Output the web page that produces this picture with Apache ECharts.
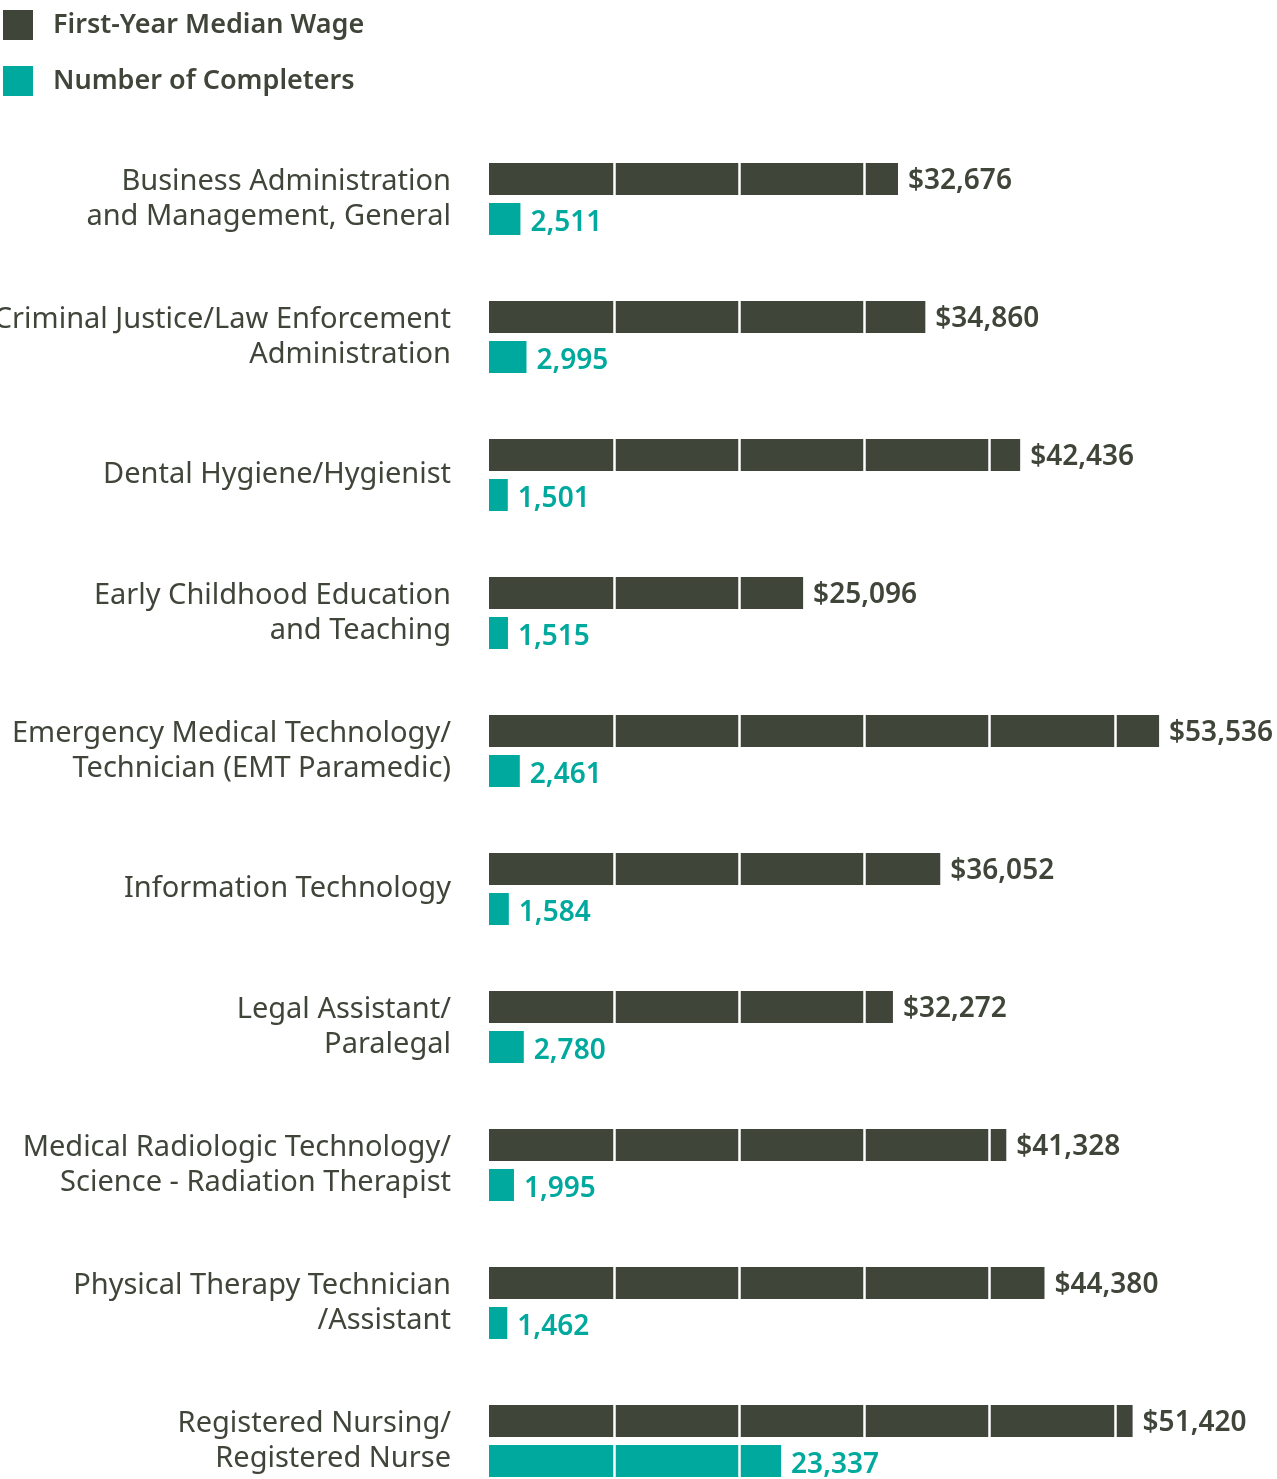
<!DOCTYPE html>
<html>
<head>
<meta charset="utf-8">
<script src="https://cdn.jsdelivr.net/npm/echarts@6/dist/echarts.min.js"></script>
<style>
  html, body { margin: 0; padding: 0; background: #fff; }
  #chart { width: 1277px; height: 1479px; }
</style>
</head>
<body>
<div id="chart"></div>
<script>
const programs = [
  'Business Administration\nand Management, General',
  'Criminal Justice/Law Enforcement\nAdministration',
  'Dental Hygiene/Hygienist',
  'Early Childhood Education\nand Teaching',
  'Emergency Medical Technology/\nTechnician (EMT Paramedic)',
  'Information Technology',
  'Legal Assistant/\nParalegal',
  'Medical Radiologic Technology/\nScience - Radiation Therapist',
  'Physical Therapy Technician\n/Assistant',
  'Registered Nursing/\nRegistered Nurse'
];
const medianWage = [32676, 34860, 42436, 25096, 53536, 36052, 32272, 41328, 44380, 51420];
const completers = [2511, 2995, 1501, 1515, 2461, 1584, 2780, 1995, 1462, 23337];

const DARK = '#40453a';
const TEAL = '#00a99d';
const FONT = 'Noto Sans';

const chart = echarts.init(document.getElementById('chart'));
const fmt = v => v.toLocaleString('en-US');

// value labels go on invisible scatter points so the white split lines stay under them
function labelSeries(values, color, dy, prefix) {
  return {
    type: 'scatter',
    z: 20,
    symbolSize: 0,
    silent: true,
    itemStyle: { opacity: 1 },
    data: values.map((v, i) => [v, i]),
    label: {
      show: true, position: 'right', distance: 10, offset: [0, dy],
      fontFamily: FONT, fontSize: 28, fontWeight: 600, color: color,
      formatter: p => prefix + fmt(p.value[0])
    }
  };
}

chart.setOption({
  animation: false,
  legend: {
    orient: 'vertical',
    left: 3,
    top: 10,
    padding: 0,
    itemWidth: 30,
    itemHeight: 30,
    itemGap: 26,
    icon: 'rect',
    data: ['First-Year Median Wage', 'Number of Completers'],
    textStyle: { fontFamily: FONT, fontSize: 27, fontWeight: 600, color: DARK, padding: [3, 0, 0, 15] }
  },
  grid: {
    left: 489,
    top: 130,
    width: 751,
    height: 1380,
    outerBoundsMode: 'none'
  },
  xAxis: {
    type: 'value',
    min: 0,
    max: 60000,
    interval: 10000,
    z: 10,
    axisLabel: { show: false },
    axisLine: { show: false },
    axisTick: { show: false },
    splitLine: { show: true, showMinLine: false, showMaxLine: false, lineStyle: { color: '#fff', width: 2.5 } }
  },
  yAxis: {
    type: 'category',
    inverse: true,
    data: programs,
    axisLine: { show: false },
    axisTick: { show: false },
    axisLabel: { margin: 38, fontFamily: FONT, fontSize: 29, lineHeight: 35, color: DARK }
  },
  series: [
    {
      name: 'First-Year Median Wage',
      type: 'bar',
      data: medianWage,
      barWidth: 32,
      barGap: '25%',
      itemStyle: { color: DARK }
    },
    {
      name: 'Number of Completers',
      type: 'bar',
      data: completers,
      barWidth: 32,
      barGap: '25%',
      itemStyle: { color: TEAL }
    },
    labelSeries(medianWage, DARK, -18, '$'),
    labelSeries(completers, TEAL, 24, '')
  ]
});
</script>
</body>
</html>
